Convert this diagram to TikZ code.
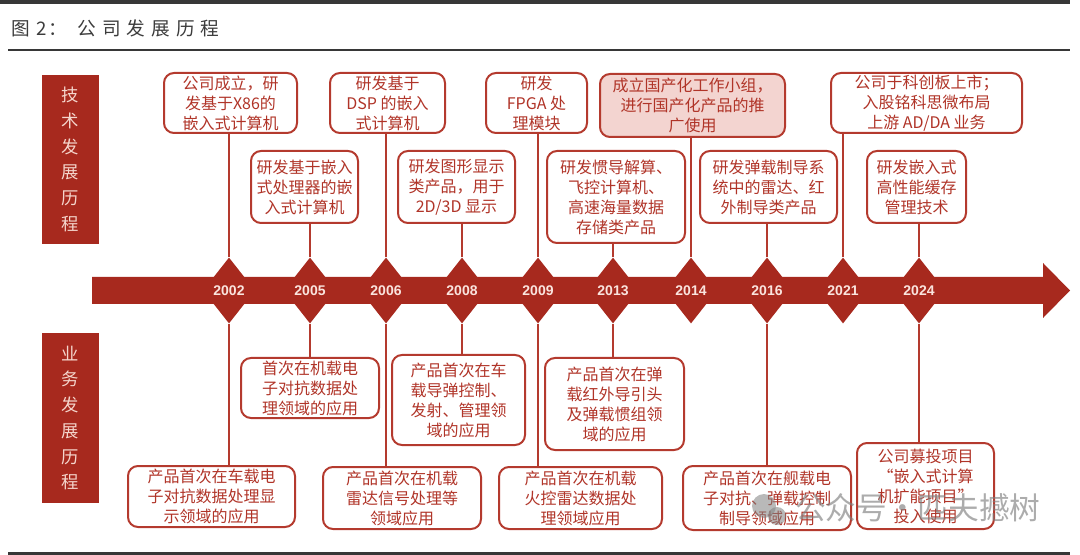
\documentclass[tikz,border=0pt]{standalone}
\usepackage{fontspec}
\setmainfont{Noto Sans CJK SC}
\newfontfamily\cjk{Noto Sans CJK SC}
\newfontfamily\yearfont{Liberation Sans}
\usetikzlibrary{shapes.geometric}
\definecolor{barred}{RGB}{167,41,30}
\definecolor{boxred}{RGB}{180,58,46}
\definecolor{txtred}{RGB}{176,52,40}
\definecolor{pinkfill}{RGB}{243,212,208}
\definecolor{labeltxt}{RGB}{245,214,205}
\definecolor{yeartxt}{RGB}{250,228,222}
\definecolor{rulegray}{RGB}{55,55,55}
\definecolor{titlegray}{RGB}{60,60,60}
\tikzset{
  evbox/.style={draw=boxred, line width=1.5pt, rounded corners=7.5pt, text=txtred,
    font=\cjk\fontsize{12}{15}\selectfont, align=center, inner sep=0pt},
  sidebox/.style={fill=barred, text=labeltxt, inner sep=0pt,
    font=\cjk\fontsize{13}{19.3}\selectfont, align=center},
  conn/.style={draw=boxred, line width=1.5pt},
  yeardia/.style={diamond, fill=barred, inner sep=0pt, minimum width=39pt, minimum height=49.5pt},
  yearlbl/.style={text=yeartxt, font=\yearfont\bfseries\fontsize{10.5}{12}\selectfont, inner sep=0pt},
}
\newcommand\evnode[7][]{%
  \node[evbox,#1,minimum width={(#5-#3)*0.75pt},minimum height={(#6-#4)*0.75pt}]
    (#2) at ({(#3+#5)/2},{(#4+#6)/2}) {#7};}
\begin{document}
\begin{tikzpicture}[x=0.75pt,y=-0.75pt]
\useasboundingbox (0,0) rectangle (1080,555);
% rules
\fill[rulegray] (0,0) rectangle (1070,4);
\fill[rulegray] (8,49) rectangle (1070,51.5);
\fill[rulegray] (8,551.5) rectangle (1070,555);
% title
\node[anchor=west, text=titlegray, font=\cjk\fontsize{14}{16}\selectfont, inner sep=0pt] (title) at (11,28)
  {图\hspace{5pt}2\hspace{1pt}：\hspace{8pt}公\hspace{4.5pt}司\hspace{4.5pt}发\hspace{4.5pt}展\hspace{4.5pt}历\hspace{4.5pt}程};
% side labels
\node[sidebox, minimum width=42.75pt, minimum height=126.75pt] (techlbl) at (70.5,159.5) {技\\术\\发\\展\\历\\程};
\node[sidebox, minimum width=42.75pt, minimum height=127.5pt] (bizlbl) at (70.5,418) {业\\务\\发\\展\\历\\程};
% timeline bar
\fill[barred] (92,277) -- (1043,277) -- (1043,263) -- (1070,290.5) -- (1043,318) -- (1043,304) -- (92,304) -- cycle;
% top boxes
\evnode{t2002}{164}{73}{297}{133}{公司成立，研\\发基于X86的\\嵌入式计算机}
\evnode{t2005}{251}{151}{358}{223}{研发基于嵌入\\式处理器的嵌\\入式计算机}
\evnode{t2006}{330}{73}{445}{133}{研发基于\\DSP 的嵌入\\式计算机}
\evnode{t2008}{398}{151}{515}{223}{研发图形显示\\类产品，用于\\2D/3D 显示}
\evnode{t2009}{486}{73}{587}{133}{研发\\FPGA 处\\理模块}
\evnode{t2013}{547}{151}{685}{243}{研发惯导解算、\\飞控计算机、\\高速海量数据\\存储类产品}
\evnode[fill=pinkfill]{t2014}{600}{74}{785}{137}{成立国产化工作小组，\\进行国产化产品的推\\广使用}
\evnode{t2016}{700}{151}{837}{223}{研发弹载制导系\\统中的雷达、红\\外制导类产品}
\evnode{t2021}{831}{73}{1022}{133}{公司于科创板上市；\\入股铭科思微布局\\上游 AD/DA 业务}
\evnode{t2024}{867}{151}{966}{223}{研发嵌入式\\高性能缓存\\管理技术}
% bottom boxes
\evnode{b2002}{128}{466}{295}{527}{产品首次在车载电\\子对抗数据处理显\\示领域的应用}
\evnode{b2005}{241}{358}{379}{418}{首次在机载电\\子对抗数据处\\理领域的应用}
\evnode{b2006}{323}{467}{481}{529}{产品首次在机载\\雷达信号处理等\\领域应用}
\evnode{b2008}{392}{355}{525}{445}{产品首次在车\\载导弹控制、\\发射、管理领\\域的应用}
\evnode{b2009}{499}{467}{662}{529}{产品首次在机载\\火控雷达数据处\\理领域应用}
\evnode{b2013}{545}{358}{684}{450}{产品首次在弹\\载红外导引头\\及弹载惯组领\\域的应用}
\evnode{b2016}{683}{466}{851}{530}{产品首次在舰载电\\子对抗、弹载控制\\制导领域应用}
\evnode{b2024}{857}{443}{994}{529}{公司募投项目\\“嵌入式计算\\机扩能项目”\\投入使用}
% diamonds
\foreach \yr/\xx in {2002/229,2005/310,2006/386,2008/462,2009/538,2013/613,2014/691,2016/767,2021/843,2024/919}{
  \node[yeardia] (d\yr) at (\xx,290.5) {};
}
% connectors top
\foreach \yr in {2002,2005,2006,2008,2009,2013,2014,2016,2021,2024}{
  \draw[conn] (t\yr.south -| d\yr.north) -- (d\yr.north);
}
% connectors bottom
\foreach \yr in {2002,2005,2006,2008,2009,2013,2016,2024}{
  \draw[conn] (d\yr.south) -- (b\yr.north -| d\yr.south);
}
% year labels
\foreach \yr in {2002,2005,2006,2008,2009,2013,2014,2016,2021,2024}{
  \node[yearlbl] (y\yr) at (d\yr) {\yr};
}
% watermark
\fill[gray, opacity=0.55] (764,506) circle (12);
\fill[gray, opacity=0.55] (777,516) circle (9);
\node[anchor=west, text=gray, opacity=0.65, font=\cjk\fontsize{23}{25}\selectfont, inner sep=0pt] (wm) at (795,508) {公众号·匹夫撼树};
\end{tikzpicture}
\end{document}
